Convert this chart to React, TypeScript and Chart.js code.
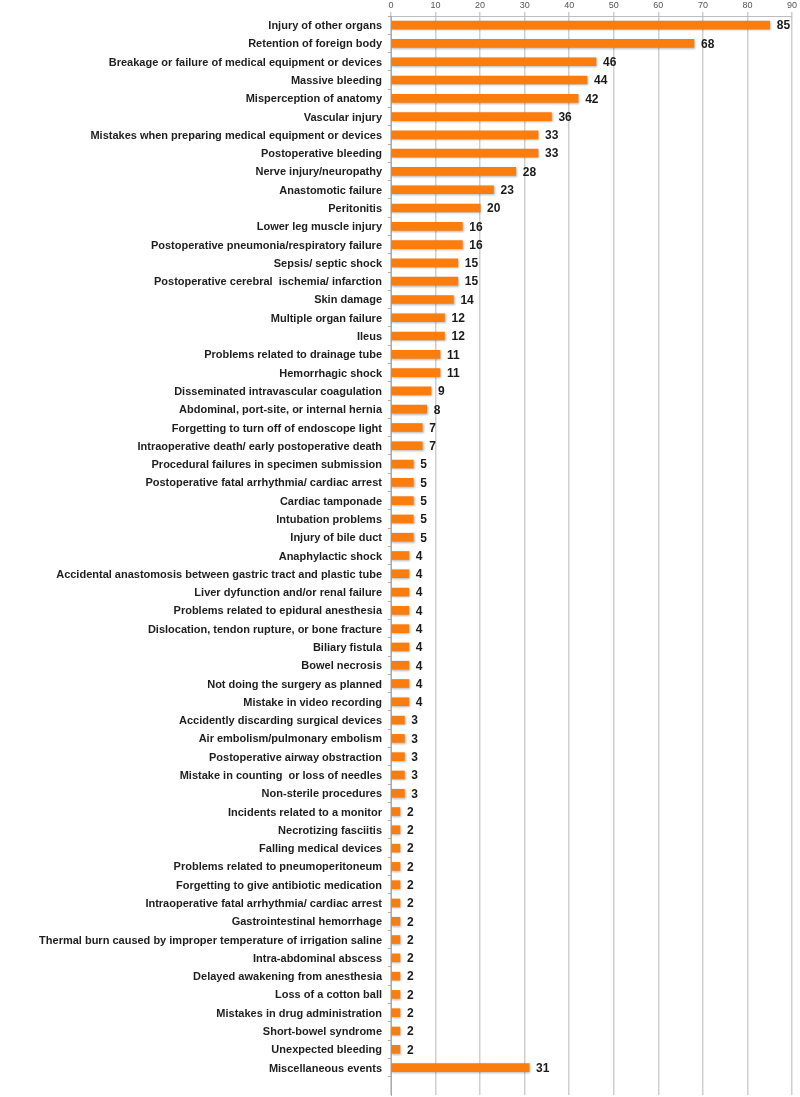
import React, { useEffect, useRef } from "react";
import { Chart, registerables } from "chart.js";

Chart.register(...registerables);

const categories: string[] = [
  "Injury of other organs",
  "Retention of foreign body",
  "Breakage or failure of medical equipment or devices",
  "Massive bleeding",
  "Misperception of anatomy",
  "Vascular injury",
  "Mistakes when preparing medical equipment or devices",
  "Postoperative bleeding",
  "Nerve injury/neuropathy",
  "Anastomotic failure",
  "Peritonitis",
  "Lower leg muscle injury",
  "Postoperative pneumonia/respiratory failure",
  "Sepsis/ septic shock",
  "Postoperative cerebral  ischemia/ infarction",
  "Skin damage",
  "Multiple organ failure",
  "Ileus",
  "Problems related to drainage tube",
  "Hemorrhagic shock",
  "Disseminated intravascular coagulation",
  "Abdominal, port-site, or internal hernia",
  "Forgetting to turn off of endoscope light",
  "Intraoperative death/ early postoperative death",
  "Procedural failures in specimen submission",
  "Postoperative fatal arrhythmia/ cardiac arrest",
  "Cardiac tamponade",
  "Intubation problems",
  "Injury of bile duct",
  "Anaphylactic shock",
  "Accidental anastomosis between gastric tract and plastic tube",
  "Liver dyfunction and/or renal failure",
  "Problems related to epidural anesthesia",
  "Dislocation, tendon rupture, or bone fracture",
  "Biliary fistula",
  "Bowel necrosis",
  "Not doing the surgery as planned",
  "Mistake in video recording",
  "Accidently discarding surgical devices",
  "Air embolism/pulmonary embolism",
  "Postoperative airway obstraction",
  "Mistake in counting  or loss of needles",
  "Non-sterile procedures",
  "Incidents related to a monitor",
  "Necrotizing fasciitis",
  "Falling medical devices",
  "Problems related to pneumoperitoneum",
  "Forgetting to give antibiotic medication",
  "Intraoperative fatal arrhythmia/ cardiac arrest",
  "Gastrointestinal hemorrhage",
  "Thermal burn caused by improper temperature of irrigation saline",
  "Intra-abdominal abscess",
  "Delayed awakening from anesthesia",
  "Loss of a cotton ball",
  "Mistakes in drug administration",
  "Short-bowel syndrome",
  "Unexpected bleeding",
  "Miscellaneous events",
];

const counts: number[] = [
  85, 68, 46, 44, 42, 36, 33, 33, 28, 23, 20, 16, 16, 15, 15, 14, 12, 12, 11, 11,
  9, 8, 7, 7, 5, 5, 5, 5, 5, 4, 4, 4, 4, 4, 4, 4, 4, 4, 3, 3, 3, 3, 3, 2, 2, 2, 2,
  2, 2, 2, 2, 2, 2, 2, 2, 2, 2, 31,
];

const xTicks: number[] = [0, 10, 20, 30, 40, 50, 60, 70, 80, 90];

const FONT = "'Liberation Sans', Arial, Helvetica, sans-serif";

const valueLabels = {
  id: "valueLabels",
  afterDatasetsDraw(chart: any) {
    const ctx = chart.ctx;
    const meta = chart.getDatasetMeta(0);
    ctx.save();
    ctx.font = `bold 12px ${FONT}`;
    ctx.fillStyle = "#1a1a1a";
    ctx.textAlign = "left";
    ctx.textBaseline = "middle";
    meta.data.forEach((el: any, i: number) => {
      ctx.fillText(String(counts[i]), el.x + 7, el.y + 1);
    });
    ctx.restore();
  },
};

const barShadow = {
  id: "barShadow",
  beforeDatasetsDraw(chart: any) {
    const ctx = chart.ctx;
    ctx.save();
    ctx.shadowColor = "rgba(0,0,0,0.28)";
    ctx.shadowBlur = 2;
    ctx.shadowOffsetX = 1;
    ctx.shadowOffsetY = 1;
  },
  afterDatasetsDraw(chart: any) {
    chart.ctx.restore();
  },
};

export default function App() {
  const ref = useRef<HTMLCanvasElement | null>(null);

  useEffect(() => {
    if (!ref.current) return;
    const chart = new Chart(ref.current, {
      type: "bar",
      data: {
        labels: categories,
        datasets: [
          {
            data: counts,
            backgroundColor: "#FA7D0E",
            borderWidth: 0,
            barThickness: 8,
          },
        ],
      },
      plugins: [barShadow, valueLabels],
      options: {
        indexAxis: "y",
        animation: false,
        responsive: true,
        maintainAspectRatio: false,
        layout: { padding: { left: 0, right: 8, top: 0, bottom: 2 } },
        plugins: {
          legend: { display: false },
          tooltip: { enabled: false },
        },
        scales: {
          x: {
            position: "top",
            min: 0,
            max: 90,
            afterFit(scale: any) {
              scale.height = 16;
              scale.paddingLeft = 0;
              scale.paddingRight = 0;
            },
            afterBuildTicks(scale: any) {
              scale.ticks = xTicks.map((v) => ({ value: v }));
            },
            ticks: {
              stepSize: 10,
              padding: 1,
              color: "#555",
              font: { family: FONT, size: 9 },
            },
            grid: {
              color: "#cfcfcf",
              lineWidth: 1.5,
              tickLength: 4,
              drawTicks: true,
            },
            border: { color: "#bdbdbd", width: 1 },
          },
          y: {
            afterFit(scale: any) {
              scale.width = 391;
              scale.paddingTop = 0;
              scale.paddingBottom = 0;
            },
            afterBuildTicks(scale: any) {
              // leave one empty band below the last category
              scale._valueRange = scale._valueRange + 1;
            },
            ticks: {
              autoSkip: false,
              padding: 6,
              labelOffset: 1,
              color: "#1e1e1e",
              font: { family: FONT, size: 11, weight: "bold" },
            },
            grid: {
              drawOnChartArea: false,
              offset: true,
              tickLength: 3,
              color: "#aaaaaa",
            },
            border: { color: "#aaaaaa", width: 1 },
          },
        },
      } as any,
    });
    return () => chart.destroy();
  }, []);

  return (
    <div style={{ position: "fixed", left: 0, top: 0, width: 800, height: 1097, background: "#fff" }}>
      <canvas ref={ref} />
    </div>
  );
}
